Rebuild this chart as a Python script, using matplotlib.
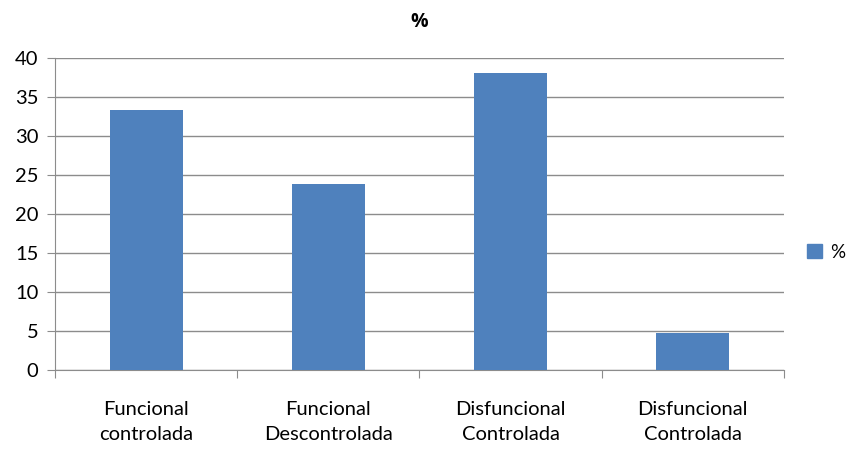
import matplotlib.pyplot as plt
from matplotlib.patches import Patch

plt.rcParams['font.family'] = ['Lato', 'DejaVu Sans']

categorias = ["Funcional\ncontrolada", "Funcional\nDescontrolada",
              "Disfuncional\nControlada", "Disfuncional\nControlada"]
valores = [33.3, 23.8, 38.1, 4.8]
yticks = [0, 5, 10, 15, 20, 25, 30, 35, 40]

cor = "#4F81BD"
cinza = "#8C8C8C"

fig = plt.figure(figsize=(8.47, 4.51), dpi=100)
ax = fig.add_axes([0.0649, 0.1796, 0.8607, 0.6918])

x = list(range(len(categorias)))
ax.bar(x, valores, width=0.4, color=cor, zorder=3)

ax.set_xlim(-0.5, len(categorias) - 0.5)
ax.set_ylim(0, 40)
ax.set_yticks(yticks)
ax.yaxis.grid(True, color=cinza, lw=1, zorder=0)

# ticks do eixo x entre as categorias
ax.set_xticks([i - 0.5 for i in range(len(categorias) + 1)])
ax.set_xticklabels([])
ax.set_xticks(x, minor=True)
ax.set_xticklabels(categorias, minor=True, fontsize=14.5, linespacing=1.6)
ax.tick_params(axis="x", which="minor", length=0, pad=22)
ax.tick_params(axis="x", which="major", length=6, color=cinza)
ax.tick_params(axis="y", length=6, color=cinza, labelsize=14.5, pad=6)

for s in ["top", "right"]:
    ax.spines[s].set_visible(False)
for s in ["left", "bottom"]:
    ax.spines[s].set_color(cinza)

ax.set_title("%", fontsize=14, fontweight="bold", family="Open Sans", pad=22)

fig.legend(handles=[Patch(color=cor, label="%")], loc="center left",
           bbox_to_anchor=(0.953, 0.441), frameon=False, fontsize=13.5,
           borderpad=0, borderaxespad=0,
           handlelength=0.8, handleheight=0.8, handletextpad=0.4)

fig.savefig("out.png", dpi=100)
